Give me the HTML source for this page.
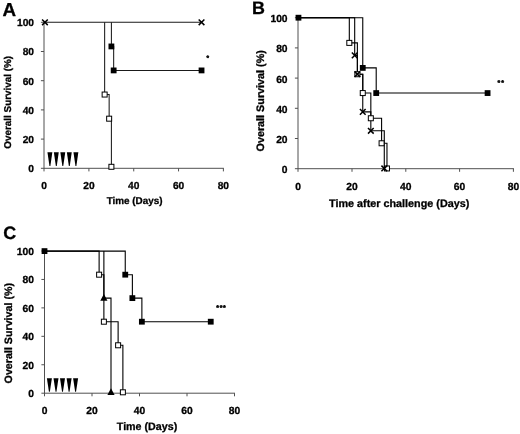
<!DOCTYPE html>
<html><head><meta charset="utf-8"><title>Survival curves</title>
<style>
html,body{margin:0;padding:0;background:#fff;}
body{width:520px;height:434px;overflow:hidden;font-family:"Liberation Sans", sans-serif;}
svg{display:block;will-change:transform;}
text{text-rendering:geometricPrecision;stroke:#000;stroke-width:0.3px;stroke-linejoin:round;}
</style></head>
<body>
<svg width="520" height="434" viewBox="0 0 520 434">
<rect x="0" y="0" width="520" height="434" fill="#fff"/>
<g stroke="#505050" stroke-width="1" fill="none">
<line x1="44.0" y1="22.30" x2="44.0" y2="171.40"/>
<line x1="40.90" y1="168.3" x2="223.88" y2="168.3"/>
<line x1="40.90" y1="139.10" x2="44.0" y2="139.10"/>
<line x1="40.90" y1="109.90" x2="44.0" y2="109.90"/>
<line x1="40.90" y1="80.70" x2="44.0" y2="80.70"/>
<line x1="40.90" y1="51.50" x2="44.0" y2="51.50"/>
<line x1="40.90" y1="22.30" x2="44.0" y2="22.30"/>
<line x1="88.92" y1="168.3" x2="88.92" y2="171.40"/>
<line x1="133.74" y1="168.3" x2="133.74" y2="171.40"/>
<line x1="178.56" y1="168.3" x2="178.56" y2="171.40"/>
<line x1="223.38" y1="168.3" x2="223.38" y2="171.40"/>
</g>
<g font-family='"Liberation Sans", sans-serif' font-weight="bold" font-size="10.2" fill="#000">
<text x="34" y="172.20" text-anchor="end">0</text>
<text x="34" y="143.00" text-anchor="end">20</text>
<text x="34" y="113.80" text-anchor="end">40</text>
<text x="34" y="84.60" text-anchor="end">60</text>
<text x="34" y="55.40" text-anchor="end">80</text>
<text x="34" y="26.20" text-anchor="end">100</text>
<text x="44.10" y="189.0" text-anchor="middle">0</text>
<text x="88.92" y="189.0" text-anchor="middle">20</text>
<text x="133.74" y="189.0" text-anchor="middle">40</text>
<text x="178.56" y="189.0" text-anchor="middle">60</text>
<text x="223.38" y="189.0" text-anchor="middle">80</text>
</g>
<g font-family='"Liberation Sans", sans-serif' font-weight="bold" font-size="9.9" fill="#000">
<text x="134.6" y="204.3" text-anchor="middle">Time (Days)</text>
<text transform="translate(10.6,102.3) rotate(-90)" text-anchor="middle">Overall Survival (%)</text>
</g>
<text x="2.5" y="16" font-family='"Liberation Sans", sans-serif' font-weight="bold" font-size="18.8" fill="#000">A</text>
<polygon points="47.45,152.2 52.35,152.2 50.35,165.9 49.45,165.9" fill="#000"/>
<polygon points="53.85,152.2 58.75,152.2 56.75,165.9 55.85,165.9" fill="#000"/>
<polygon points="60.35,152.2 65.25,152.2 63.25,165.9 62.35,165.9" fill="#000"/>
<polygon points="66.85,152.2 71.75,152.2 69.75,165.9 68.85,165.9" fill="#000"/>
<polygon points="73.45,152.2 78.35,152.2 76.35,165.9 75.45,165.9" fill="#000"/>
<path d="M43.80,22.30 H201.54 V22.30" fill="none" stroke="#1a1a1a" stroke-width="1.05"/>
<path d="M111.40,22.30 H111.40 V46.43 H113.66 V70.42 H201.54 V70.42" fill="none" stroke="#1a1a1a" stroke-width="1.05"/>
<path d="M104.64,22.30 H104.64 V94.55 H109.15 V118.68 H111.40 V166.80" fill="none" stroke="#1a1a1a" stroke-width="1.05"/>
<path d="M42.08,19.45 L47.78,25.15 M42.08,25.15 L47.78,19.45" stroke="#000" stroke-width="1.5" fill="none"/>
<path d="M198.69,19.45 L204.39,25.15 M198.69,25.15 L204.39,19.45" stroke="#000" stroke-width="1.5" fill="none"/>
<rect x="108.50" y="43.53" width="5.8" height="5.8" fill="#000"/>
<rect x="110.76" y="67.52" width="5.8" height="5.8" fill="#000"/>
<rect x="198.64" y="67.52" width="5.8" height="5.8" fill="#000"/>
<rect x="102.14" y="92.05" width="5.0" height="5.0" fill="#fff" stroke="#000" stroke-width="1"/>
<rect x="106.65" y="116.18" width="5.0" height="5.0" fill="#fff" stroke="#000" stroke-width="1"/>
<rect x="108.90" y="164.30" width="5.0" height="5.0" fill="#fff" stroke="#000" stroke-width="1"/>
<text x="206.54" y="59.9" font-family='"Liberation Sans", sans-serif' font-weight="bold" font-size="6.5" letter-spacing="0.87" style="stroke-width:0.45px" fill="#000">*</text>
<g stroke="#505050" stroke-width="1" fill="none">
<line x1="298.0" y1="17.70" x2="298.0" y2="171.80"/>
<line x1="294.90" y1="168.7" x2="513.90" y2="168.7"/>
<line x1="294.90" y1="138.50" x2="298.0" y2="138.50"/>
<line x1="294.90" y1="108.30" x2="298.0" y2="108.30"/>
<line x1="294.90" y1="78.10" x2="298.0" y2="78.10"/>
<line x1="294.90" y1="47.90" x2="298.0" y2="47.90"/>
<line x1="294.90" y1="17.70" x2="298.0" y2="17.70"/>
<line x1="352.00" y1="168.7" x2="352.00" y2="171.80"/>
<line x1="405.80" y1="168.7" x2="405.80" y2="171.80"/>
<line x1="459.60" y1="168.7" x2="459.60" y2="171.80"/>
<line x1="513.40" y1="168.7" x2="513.40" y2="171.80"/>
</g>
<g font-family='"Liberation Sans", sans-serif' font-weight="bold" font-size="10.3" fill="#000">
<text x="287.6" y="173.20" text-anchor="end">0</text>
<text x="287.6" y="143.00" text-anchor="end">20</text>
<text x="287.6" y="112.80" text-anchor="end">40</text>
<text x="287.6" y="82.60" text-anchor="end">60</text>
<text x="287.6" y="52.40" text-anchor="end">80</text>
<text x="287.6" y="22.20" text-anchor="end">100</text>
<text x="298.20" y="189.6" text-anchor="middle">0</text>
<text x="352.00" y="189.6" text-anchor="middle">20</text>
<text x="405.80" y="189.6" text-anchor="middle">40</text>
<text x="459.60" y="189.6" text-anchor="middle">60</text>
<text x="513.40" y="189.6" text-anchor="middle">80</text>
</g>
<g font-family='"Liberation Sans", sans-serif' font-weight="bold" font-size="10.8" fill="#000">
<text x="399.2" y="207.4" text-anchor="middle">Time after challenge (Days)</text>
<text transform="translate(263.6,100.8) rotate(-90)" text-anchor="middle">Overall Survival (%)</text>
</g>
<text x="252.0" y="14.4" font-family='"Liberation Sans", sans-serif' font-weight="bold" font-size="17.9" fill="#000">B</text>
<path d="M298.20,17.70 H349.31 V17.70 H349.31 V42.88 H357.38 V74.23 H362.76 V93.07 H370.83 V118.25 H381.59 V143.27 H386.97 V168.45" fill="none" stroke="#000" stroke-width="1.1"/>
<path d="M298.20,17.70 H354.69 V17.70 H354.69 V55.39 H357.38 V74.23 H362.76 V111.92 H370.83 V130.76 H384.28 V168.45" fill="none" stroke="#000" stroke-width="1.1"/>
<path d="M298.20,17.70 H362.76 V17.70 H362.76 V67.90 H376.21 V93.07 H486.50 V93.07" fill="none" stroke="#000" stroke-width="1.1"/>
<rect x="346.81" y="40.38" width="5.0" height="5.0" fill="#fff" stroke="#000" stroke-width="1"/>
<rect x="354.88" y="71.73" width="5.0" height="5.0" fill="#fff" stroke="#000" stroke-width="1"/>
<rect x="360.26" y="90.57" width="5.0" height="5.0" fill="#fff" stroke="#000" stroke-width="1"/>
<rect x="368.33" y="115.75" width="5.0" height="5.0" fill="#fff" stroke="#000" stroke-width="1"/>
<rect x="379.09" y="140.77" width="5.0" height="5.0" fill="#fff" stroke="#000" stroke-width="1"/>
<rect x="384.47" y="165.95" width="5.0" height="5.0" fill="#fff" stroke="#000" stroke-width="1"/>
<path d="M351.84,52.54 L357.54,58.24 M351.84,58.24 L357.54,52.54" stroke="#000" stroke-width="1.5" fill="none"/>
<path d="M354.53,71.38 L360.23,77.08 M354.53,77.08 L360.23,71.38" stroke="#000" stroke-width="1.5" fill="none"/>
<path d="M359.91,109.07 L365.61,114.77 M359.91,114.77 L365.61,109.07" stroke="#000" stroke-width="1.5" fill="none"/>
<path d="M367.98,127.91 L373.68,133.61 M367.98,133.61 L373.68,127.91" stroke="#000" stroke-width="1.5" fill="none"/>
<path d="M381.43,165.60 L387.13,171.30 M381.43,171.30 L387.13,165.60" stroke="#000" stroke-width="1.5" fill="none"/>
<rect x="295.57" y="14.80" width="5.8" height="5.8" fill="#000"/>
<rect x="359.86" y="65.00" width="5.8" height="5.8" fill="#000"/>
<rect x="373.31" y="90.17" width="5.8" height="5.8" fill="#000"/>
<rect x="484.68" y="90.17" width="5.8" height="5.8" fill="#000"/>
<text x="497.44" y="84.6" font-family='"Liberation Sans", sans-serif' font-weight="bold" font-size="7" letter-spacing="0.98" style="stroke-width:0.45px" fill="#000">**</text>
<g stroke="#505050" stroke-width="1" fill="none">
<line x1="44.5" y1="251.00" x2="44.5" y2="396.30"/>
<line x1="41.40" y1="393.2" x2="235.00" y2="393.2"/>
<line x1="41.40" y1="364.76" x2="44.5" y2="364.76"/>
<line x1="41.40" y1="336.32" x2="44.5" y2="336.32"/>
<line x1="41.40" y1="307.88" x2="44.5" y2="307.88"/>
<line x1="41.40" y1="279.44" x2="44.5" y2="279.44"/>
<line x1="41.40" y1="251.00" x2="44.5" y2="251.00"/>
<line x1="92.00" y1="393.2" x2="92.00" y2="396.30"/>
<line x1="139.50" y1="393.2" x2="139.50" y2="396.30"/>
<line x1="187.00" y1="393.2" x2="187.00" y2="396.30"/>
<line x1="234.50" y1="393.2" x2="234.50" y2="396.30"/>
</g>
<g font-family='"Liberation Sans", sans-serif' font-weight="bold" font-size="10.3" fill="#000">
<text x="33.9" y="397.10" text-anchor="end">0</text>
<text x="33.9" y="368.66" text-anchor="end">20</text>
<text x="33.9" y="340.22" text-anchor="end">40</text>
<text x="33.9" y="311.78" text-anchor="end">60</text>
<text x="33.9" y="283.34" text-anchor="end">80</text>
<text x="33.9" y="254.90" text-anchor="end">100</text>
<text x="44.50" y="413.8" text-anchor="middle">0</text>
<text x="92.00" y="413.8" text-anchor="middle">20</text>
<text x="139.50" y="413.8" text-anchor="middle">40</text>
<text x="187.00" y="413.8" text-anchor="middle">60</text>
<text x="234.50" y="413.8" text-anchor="middle">80</text>
</g>
<g font-family='"Liberation Sans", sans-serif' font-weight="bold" font-size="10.7" fill="#000">
<text x="147" y="429.8" text-anchor="middle">Time (Days)</text>
<text transform="translate(11.5,333.2) rotate(-90)" text-anchor="middle">Overall Survival (%)</text>
</g>
<text x="3.3" y="239.3" font-family='"Liberation Sans", sans-serif' font-weight="bold" font-size="17.9" fill="#000">C</text>
<polygon points="46.90,378.2 51.90,378.2 49.85,391.8 48.95,391.8" fill="#000"/>
<polygon points="53.50,378.2 58.50,378.2 56.45,391.8 55.55,391.8" fill="#000"/>
<polygon points="60.00,378.2 65.00,378.2 62.95,391.8 62.05,391.8" fill="#000"/>
<polygon points="66.60,378.2 71.60,378.2 69.55,391.8 68.65,391.8" fill="#000"/>
<polygon points="73.10,378.2 78.10,378.2 76.05,391.8 75.15,391.8" fill="#000"/>
<path d="M103.88,251.10 H103.88 V298.12 H111.00 V392.30" fill="none" stroke="#000" stroke-width="1.1"/>
<path d="M44.50,251.10 H99.12 V251.10 H99.12 V274.68 H103.88 V321.70 H118.12 V345.28 H122.88 V392.30" fill="none" stroke="#000" stroke-width="1.1"/>
<path d="M44.50,251.10 H125.25 V251.10 H125.25 V274.68 H132.38 V298.12 H141.88 V321.70 H210.75 V321.70" fill="none" stroke="#000" stroke-width="1.1"/>
<polygon points="100.28,300.82 107.47,300.82 103.88,294.12" fill="#000"/>
<polygon points="107.40,395.00 114.60,395.00 111.00,388.30" fill="#000"/>
<rect x="96.62" y="272.18" width="5.0" height="5.0" fill="#fff" stroke="#000" stroke-width="1"/>
<rect x="101.38" y="319.20" width="5.0" height="5.0" fill="#fff" stroke="#000" stroke-width="1"/>
<rect x="115.62" y="342.78" width="5.0" height="5.0" fill="#fff" stroke="#000" stroke-width="1"/>
<rect x="120.38" y="389.80" width="5.0" height="5.0" fill="#fff" stroke="#000" stroke-width="1"/>
<rect x="41.60" y="248.20" width="5.8" height="5.8" fill="#000"/>
<rect x="122.35" y="271.78" width="5.8" height="5.8" fill="#000"/>
<rect x="129.47" y="295.22" width="5.8" height="5.8" fill="#000"/>
<rect x="138.97" y="318.80" width="5.8" height="5.8" fill="#000"/>
<rect x="207.85" y="318.80" width="5.8" height="5.8" fill="#000"/>
<text x="216.24" y="309.6" font-family='"Liberation Sans", sans-serif' font-weight="bold" font-size="7" letter-spacing="0.68" style="stroke-width:0.45px" fill="#000">***</text>
</svg>
</body></html>
